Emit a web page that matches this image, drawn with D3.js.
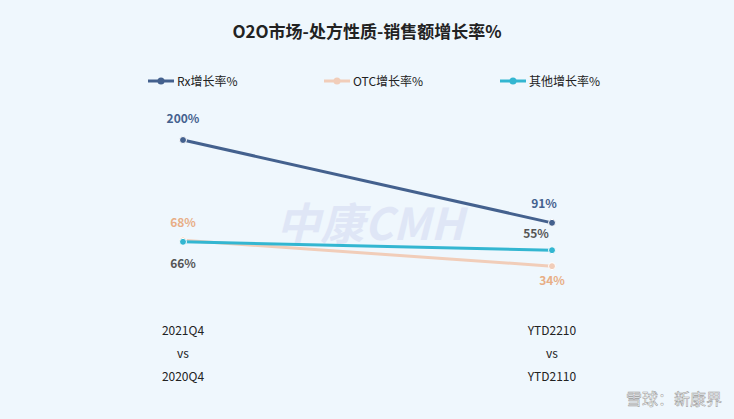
<!DOCTYPE html><html><head><meta charset="utf-8"><script src="https://cdn.jsdelivr.net/npm/d3@7"></script>
<style>body{margin:0;background:#eff7fd;font-family:"Noto Sans CJK SC","Noto Sans",sans-serif}</style></head><body><svg id="c" width="734" height="419"></svg><script>
const categories=[["2021Q4","vs","2020Q4"],["YTD2210","vs","YTD2110"]];
const seriesNames=["Rx增长率%","OTC增长率%","其他增长率%"];
const rx=[200,91], otc=[68,34], other=[66,55];
const colors=["#44618e","#f1cdb9","#33b6d1"];
const labelColors=["#44618e","#e8ae86","#555555"];
const svg=d3.select("#c");
svg.append("rect").attr("width",734).attr("height",419).attr("fill","#eff7fd");
svg.append("text").attr("x",367).attr("y",38).attr("text-anchor","middle").attr("font-size",17).attr("font-weight","bold").attr("fill","#222").text("O2O市场-处方性质-销售额增长率%");
svg.append("text").attr("x",370).attr("y",240).attr("text-anchor","middle").attr("font-size",44).attr("font-weight","bold").attr("fill","#dfe6f6").attr("font-style","italic").text("中康CMH");
const x=d3.scalePoint().domain([0,1]).range([183,552]);
const y=d3.scaleLinear().domain([0,200]).range([292,140]);
const data=[rx,otc,other];
const legX=[148,324,500];
seriesNames.forEach((n,i)=>{
 const g=svg.append("g");
 g.append("line").attr("x1",legX[i]).attr("x2",legX[i]+26).attr("y1",81).attr("y2",81).attr("stroke",colors[i]).attr("stroke-width",3);
 g.append("circle").attr("cx",legX[i]+13).attr("cy",81).attr("r",3.5).attr("fill",colors[i]);
 g.append("text").attr("x",legX[i]+29).attr("y",85.5).attr("font-size",12).attr("fill","#222").text(n);
});
[1,2,0].forEach(i=>{
 const d=data[i];
 svg.append("path").attr("d",d3.line().x((v,j)=>x(j)).y(v=>y(v))(d)).attr("stroke",colors[i]).attr("stroke-width",3).attr("fill","none");
 d.forEach((v,j)=>svg.append("circle").attr("cx",x(j)).attr("cy",y(v)).attr("r",3.5).attr("fill",colors[i]).attr("stroke","#fff").attr("stroke-width",1));
});
const lbl=[[[-0,-17],[-8,-15]],[[0,-13],[0,19]],[[0,26],[-16,-12]]];
data.forEach((d,i)=>d.forEach((v,j)=>svg.append("text").attr("x",x(j)+lbl[i][j][0]).attr("y",y(v)+lbl[i][j][1]).attr("text-anchor","middle").attr("font-size",12).attr("font-weight","bold").attr("fill",labelColors[i]).text(v+"%")));
categories.forEach((c,j)=>c.forEach((t,k)=>svg.append("text").attr("x",x(j)).attr("y",335+k*23).attr("text-anchor","middle").attr("font-size",12).attr("fill","#222").text(t)));
svg.append("text").attr("x",722).attr("y",405).attr("text-anchor","end").attr("font-size",16).attr("fill","#ffffff").attr("stroke","#999").attr("stroke-width",0.5).text("雪球：新康界");
</script></body></html>
